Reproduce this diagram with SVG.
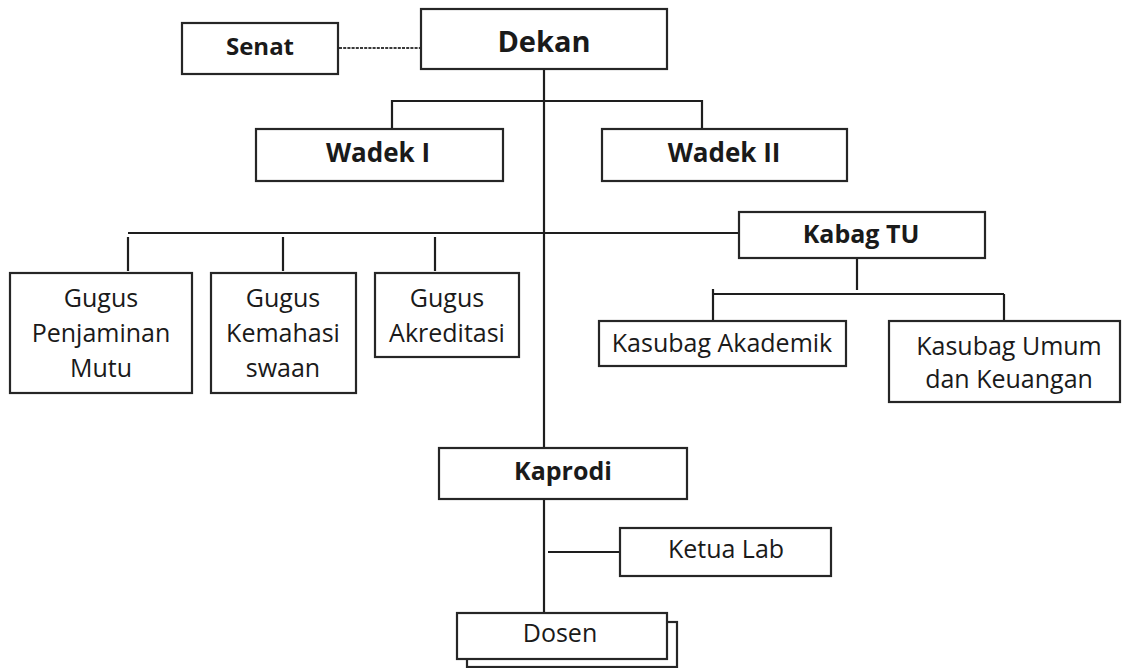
<svg xmlns="http://www.w3.org/2000/svg" width="1127" height="668" viewBox="0 0 1127 668">
<style>
.box{fill:#fff;stroke:#262626;stroke-width:2.2}
.ln{stroke:#1e1e1e;stroke-width:2.2;fill:none}
.dash{stroke:#3a3a3a;stroke-width:2.2;stroke-dasharray:3 1.2;fill:none}
text{font-family:"Open Sans","Noto Sans","DejaVu Sans",sans-serif;fill:#1a1a1a;text-anchor:middle}
.b{font-weight:bold;font-size:25px}
.r{font-size:25px}
</style>
<rect width="1127" height="668" fill="#fff"/>
<g id="connectors">
<line class="dash" x1="339" y1="48" x2="421" y2="48"/>
<line class="ln" x1="544" y1="69" x2="544" y2="448"/>
<line class="ln" x1="544" y1="499" x2="544" y2="613"/>
<polyline class="ln" points="392,129 392,101 702,101 702,129"/>
<line class="ln" x1="128" y1="233" x2="739" y2="233"/>
<line class="ln" x1="128" y1="237" x2="128" y2="271"/>
<line class="ln" x1="283" y1="237" x2="283" y2="271"/>
<line class="ln" x1="435" y1="237" x2="435" y2="271"/>
<line class="ln" x1="857" y1="258" x2="857" y2="290"/>
<line class="ln" x1="713" y1="294" x2="1004" y2="294"/>
<line class="ln" x1="713" y1="289" x2="713" y2="321"/>
<line class="ln" x1="1004" y1="294" x2="1004" y2="326"/>
<line class="ln" x1="548" y1="552" x2="620" y2="552"/>
</g>
<g id="senat"><rect class="box" x="182" y="23" width="156" height="51"/><text class="b" x="260" y="55" style="font-size:24px">Senat</text></g>
<g id="dekan"><rect class="box" x="421" y="9" width="246" height="60"/><text class="b" x="544" y="52" style="font-size:29px">Dekan</text></g>
<g id="wadek1"><rect class="box" x="256" y="129" width="247" height="52"/><text class="b" x="378" y="162" style="font-size:26px">Wadek I</text></g>
<g id="wadek2"><rect class="box" x="602" y="129" width="245" height="52"/><text class="b" x="724" y="162" style="font-size:26px">Wadek II</text></g>
<g id="kabag-tu"><rect class="box" x="739" y="212" width="246" height="46"/><text class="b" x="861" y="243">Kabag TU</text></g>
<g id="gugus-pm"><rect class="box" x="10" y="273" width="182" height="120"/><text class="r" x="101" y="307">Gugus</text><text class="r" x="101" y="342">Penjaminan</text><text class="r" x="101" y="377">Mutu</text></g>
<g id="gugus-km"><rect class="box" x="211" y="273" width="145" height="120"/><text class="r" x="283" y="307">Gugus</text><text class="r" x="283" y="342">Kemahasi</text><text class="r" x="283" y="377">swaan</text></g>
<g id="gugus-ak"><rect class="box" x="375" y="273" width="144" height="84"/><text class="r" x="447" y="307">Gugus</text><text class="r" x="447" y="342">Akreditasi</text></g>
<g id="kasubag-ak"><rect class="box" x="599" y="321" width="247" height="45"/><text class="r" x="722" y="352">Kasubag Akademik</text></g>
<g id="kasubag-uk"><rect class="box" x="889" y="321" width="231" height="81"/><text class="r" x="1009" y="355">Kasubag Umum</text><text class="r" x="1009" y="388">dan Keuangan</text></g>
<g id="kaprodi"><rect class="box" x="439" y="448" width="248" height="51"/><text class="b" x="563" y="480">Kaprodi</text></g>
<g id="ketua-lab"><rect class="box" x="620" y="528" width="211" height="48"/><text class="r" x="726" y="558">Ketua Lab</text></g>
<g id="dosen"><rect class="box" x="467" y="622" width="210" height="45"/><rect class="box" x="457" y="613" width="210" height="46"/><text class="r" x="560" y="642">Dosen</text></g>
</svg>
